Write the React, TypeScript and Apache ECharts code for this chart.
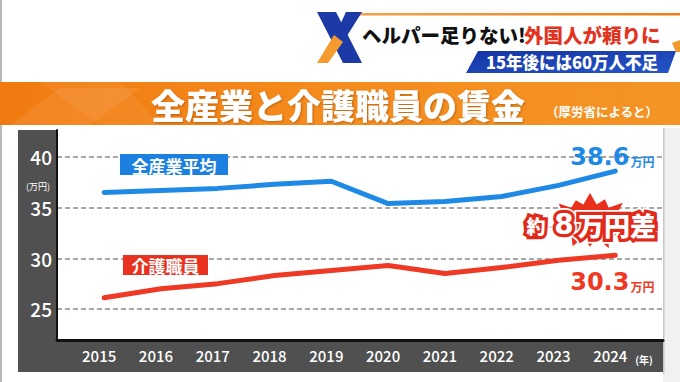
import React, { useEffect, useRef } from "react";
import * as echarts from "echarts";

const years = [2015, 2016, 2017, 2018, 2019, 2020, 2021, 2022, 2023, 2024];
const allIndustry = [36.5, 36.7, 36.9, 37.3, 37.6, 35.4, 35.6, 36.1, 37.2, 38.6];
const careWorkers = [26.1, 27.0, 27.5, 28.3, 28.8, 29.3, 28.5, 29.1, 29.8, 30.3];
const yTicks = [25, 30, 35, 40];

const BLUE = "#1f8ae6";
const RED = "#ee3a25";
const JP = "'Noto Sans CJK JP', 'Noto Sans', sans-serif";

function starPoints(cx: number, cy: number, n: number, rxo: number, ryo: number, rxi: number, ryi: number) {
  const pts: number[][] = [];
  const jitter = [1, 0.86, 1.05, 0.9, 1, 0.82, 1.08, 0.92];
  for (let i = 0; i < n * 2; i++) {
    const a = (Math.PI * i) / n - Math.PI / 2;
    const outer = i % 2 === 0;
    const j = outer ? jitter[(i / 2) % jitter.length] : 1;
    const rx = outer ? rxo * j : rxi;
    const ry = outer ? ryo * j : ryi;
    pts.push([cx + Math.cos(a) * rx, cy + Math.sin(a) * ry]);
  }
  return pts;
}

export default function App() {
  const ref = useRef<HTMLDivElement>(null);
  useEffect(() => {
    if (!ref.current) return;
    const chart = echarts.init(ref.current, undefined, { renderer: "svg" });
    const last = years.length - 1;
    const valueLabel = (color: string, pos: "top" | "bottom", dist: number) => ({
      show: true,
      position: pos,
      distance: dist,
      offset: [-3, 0],
      formatter: (p: any) => `{a|${Number(p.value[1]).toFixed(1)}}{b|万円}`,
      rich: {
        a: { fontFamily: "'DejaVu Sans', sans-serif", fontWeight: "bold", fontSize: 24, color, lineHeight: 26 },
        b: { fontFamily: JP, fontWeight: "bold", fontSize: 12, color, lineHeight: 26, verticalAlign: "bottom", padding: [0, 0, 2, 1] },
      },
    });
    const mk = (vals: number[], lbl: any) =>
      vals.map((v, i) => (i === last ? { value: [years[i], v], label: lbl } : { value: [years[i], v], label: { show: false } }));

    const textStroke = (text: string, x: number, y: number, size: number, family: string, z: number) => [
      {
        type: "text",
        z,
        style: { text, x, y, fill: "#fff", stroke: "#fff", lineWidth: 10, lineJoin: "round", font: `900 ${size}px ${family}`, align: "center", verticalAlign: "middle" },
      },
      {
        type: "text",
        z: z + 1,
        style: { text, x, y, fill: "#e22a1a", stroke: "#e22a1a", lineWidth: 6.5, lineJoin: "round", font: `900 ${size}px ${family}`, align: "center", verticalAlign: "middle" },
      },
      {
        type: "text",
        z: z + 2,
        style: { text, x, y, fill: "#fff", font: `900 ${size}px ${family}`, align: "center", verticalAlign: "middle" },
      },
    ];

    chart.setOption({
      animation: false,
      backgroundColor: "#ffffff",
      grid: { left: 57, right: 17, top: 130, bottom: 42, show: true, backgroundColor: "#ffffff", borderWidth: 0 },
      xAxis: {
        type: "value",
        min: 2014.17,
        max: 2024.84,
        axisLine: { show: true, lineStyle: { color: "#111", width: 3 } },
        axisTick: { show: false, customValues: years },
        splitLine: { show: false },
        axisLabel: {
          customValues: years,
          formatter: (v: number) => String(v),
          color: "#fff",
          fontSize: 15,
          fontFamily: JP,
          fontWeight: 500,
          margin: 8,
          padding: [0, 10, 0, 0],
        },
      },
      yAxis: {
        type: "value",
        min: 21.94,
        max: 42.66,
        axisLine: { show: true, lineStyle: { color: "#111", width: 2 } },
        axisTick: { show: false, customValues: yTicks },
        axisLabel: {
          customValues: yTicks,
          color: "#fff",
          fontSize: 19,
          fontFamily: JP,
          fontWeight: 500,
          margin: 5,
        },
        splitLine: { show: true, lineStyle: { color: "#8a8a8a", width: 1.5, type: [5, 3] } },
      },
      series: [
        {
          type: "line",
          data: mk(allIndustry, valueLabel(BLUE, "top", 1)),
          symbol: "circle",
          symbolSize: 1,
          showSymbol: true,
          itemStyle: { color: BLUE },
          lineStyle: { color: BLUE, width: 5, cap: "round", join: "round" },
          z: 5,
        },
        {
          type: "line",
          data: mk(careWorkers, valueLabel(RED, "bottom", 13)),
          symbol: "circle",
          symbolSize: 1,
          showSymbol: true,
          itemStyle: { color: RED },
          lineStyle: { color: RED, width: 5, cap: "round", join: "round" },
          z: 5,
        },
      ],
      graphic: [
        // frame edges
        { type: "rect", shape: { x: 0, y: 0, width: 2, height: 382 }, style: { fill: "#b8b8b8" } },
        { type: "rect", shape: { x: 663, y: 128, width: 17, height: 254 }, style: { fill: "#f1f1f1" } },
        { type: "rect", shape: { x: 663, y: 128, width: 1.5, height: 246 }, style: { fill: "#c8c8c8" } },
        // dark panels
        { type: "rect", shape: { x: 18, y: 130, width: 39, height: 242 }, style: { fill: "#505050" } },
        { type: "rect", shape: { x: 18, y: 340, width: 645, height: 32 }, style: { fill: "#505050" } },
        { type: "text", style: { text: "(万円)", x: 38, y: 186, fill: "#fff", font: `9px ${JP}`, align: "center", verticalAlign: "middle" } },
        { type: "text", z: 10, style: { text: "(年)", x: 644, y: 359, fill: "#fff", font: `bold 10px ${JP}`, align: "center", verticalAlign: "middle" } },
        // orange banner
        {
          type: "rect",
          shape: { x: 0, y: 82, width: 680, height: 43 },
          style: {
            fill: new echarts.graphic.LinearGradient(0, 0, 1, 0, [
              { offset: 0, color: "#f17a10" },
              { offset: 0.5, color: "#f58c1e" },
              { offset: 1, color: "#f39424" },
            ]),
          },
        },
        { type: "polygon", shape: { points: [[10, 125], [60, 88], [140, 88], [90, 125]] }, style: { fill: "rgba(255,255,255,0.08)" } },
        { type: "polygon", shape: { points: [[40, 82], [120, 82], [160, 125], [100, 125]] }, style: { fill: "rgba(255,255,255,0.06)" } },
        {
          type: "text",
          style: {
            text: "全産業と介護職員の賃金",
            x: 338,
            y: 104,
            fill: "#fff",
            font: `900 34px ${JP}`,
            align: "center",
            verticalAlign: "middle",
            textShadowColor: "rgba(120,50,0,0.45)",
            textShadowBlur: 2,
            textShadowOffsetX: 1,
            textShadowOffsetY: 1,
          },
        },
        { type: "text", style: { text: "（厚労省によると）", x: 602, y: 111, fill: "#fff", font: `bold 12.5px ${JP}`, align: "center", verticalAlign: "middle" } },
        // header
        {
          type: "rect",
          shape: { x: 345, y: 13, width: 335, height: 2.5 },
          style: {
            fill: new echarts.graphic.LinearGradient(0, 0, 1, 0, [
              { offset: 0, color: "#f7a24a" },
              { offset: 1, color: "#ef7d14" },
            ]),
          },
        },
        { type: "polygon", shape: { points: [[317, 12], [336, 12], [362, 63], [343, 63]] }, style: { fill: "#1c3aa6" } },
        { type: "polygon", shape: { points: [[346, 12], [362, 12], [345, 39], [337, 31]] }, style: { fill: "#1c3aa6" } },
        { type: "polygon", shape: { points: [[334, 35], [343, 42], [328, 63], [317, 63]] }, style: { fill: "#f59a2e" } },
        { type: "text", style: { text: "ヘルパー足りない!", x: 362, y: 34, fill: "#111", font: `900 19.5px ${JP}`, align: "left", verticalAlign: "middle" } },
        { type: "text", style: { text: "外国人が頼りに", x: 524, y: 34, fill: "#e3331f", font: `900 19.5px ${JP}`, align: "left", verticalAlign: "middle" } },
        { type: "polygon", shape: { points: [[672, 43], [680, 40], [680, 52], [676, 52]] }, style: { fill: "#f39a2e" } },
        {
          type: "polygon",
          shape: { points: [[478, 51], [676, 51], [668, 73], [466, 73]] },
          style: {
            fill: new echarts.graphic.LinearGradient(0, 0, 1, 1, [
              { offset: 0, color: "#1534a4" },
              { offset: 1, color: "#2456c8" },
            ]),
          },
        },
        { type: "text", style: { text: "15年後には60万人不足", x: 572, y: 62, fill: "#fff", font: `900 16.5px ${JP}`, align: "center", verticalAlign: "middle" } },
        // series name tags
        { type: "rect", z: 20, shape: { x: 120, y: 154, width: 108, height: 21 }, style: { fill: "#1b80e0" } },
        { type: "text", z: 21, style: { text: "全産業平均", x: 174, y: 165, fill: "#fff", font: `bold 17px ${JP}`, align: "center", verticalAlign: "middle" } },
        { type: "rect", z: 20, shape: { x: 123, y: 255, width: 85, height: 20 }, style: { fill: "#e8321f" } },
        { type: "text", z: 21, style: { text: "介護職員", x: 165.5, y: 265, fill: "#fff", font: `bold 17px ${JP}`, align: "center", verticalAlign: "middle" } },
        // badge
        { type: "polygon", z: 30, shape: { points: starPoints(590, 221, 14, 40, 28, 30, 17) }, style: { fill: "#e8301d" } },
        ...textStroke("約", 536, 225, 19, JP, 40),
        ...textStroke("8", 564, 224, 28, "'DejaVu Sans', sans-serif", 40),
        ...textStroke("万円差", 617, 224, 26, JP, 40),
      ],
    });
    return () => chart.dispose();
  }, []);
  return <div ref={ref} style={{ position: "absolute", left: 0, top: 0, width: 680, height: 382 }} />;
}
